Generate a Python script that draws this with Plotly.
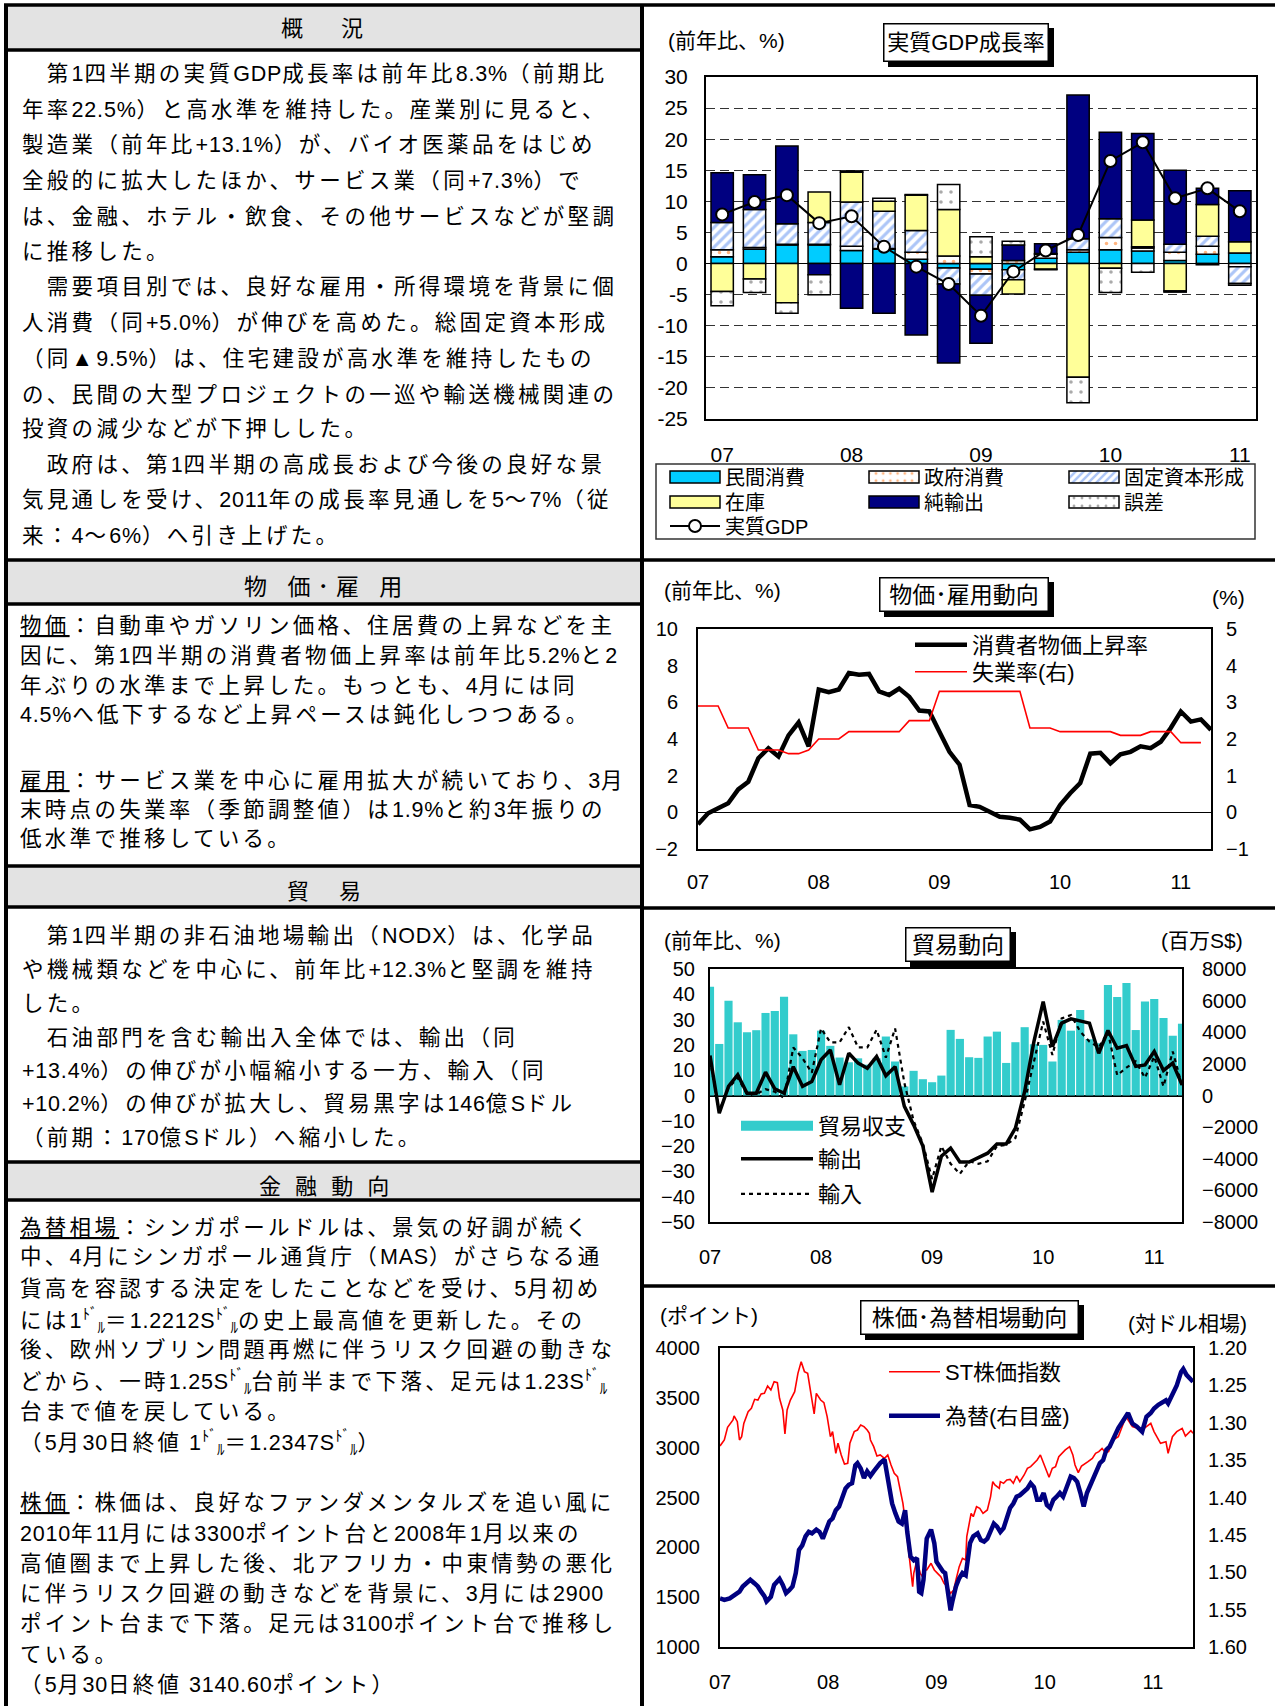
import re
import plotly.graph_objects as go

W, H = 1275, 1706
FONT = "Liberation Sans, Noto Sans CJK JP, sans-serif"


def px(x):
    return x / W


def py(y):
    return 1 - y / H


# ------------------------------------------------------------------ data
year_labels = ["07", "08", "09", "10", "11"]

# Chart 1: real GDP growth and contributions, 2007Q1 - 2011Q1 (%, % pt)
gdp_quarters = list(range(17))
private_consumption = [1.1, 2.3, 3.0, 3.0, 2.1, 2.3, 0.7, -0.7, -0.9, -1.0, 0.85, 1.8, 2.2, 2.0, 0.5, 1.5, 1.7]
government_consumption = [1.1, 0.3, 0.1, 0.1, 0.7, 0.1, 1.1, 1.2, -0.8, 0.5, 0.65, 0.4, 2.0, 0.5, 1.3, 1.3, -0.5]
fixed_capital = [4.4, 6.1, 3.3, 3.5, 7.1, 6.0, 3.5, -2.6, -3.4, -1.6, 0.1, 1.8, 3.0, 0.2, 1.3, 1.6, -2.7]
inventories = [-4.5, -2.5, -6.3, 4.9, 4.8, 1.6, 5.7, 7.5, 1.1, -2.3, -0.9, -18.3, -0.75, 4.3, -4.4, 5.1, 1.8]
net_exports = [8.0, 5.6, 12.5, -1.8, -7.2, -8.0, -11.5, -12.7, -7.7, 2.5, 1.6, 23.1, 13.9, 13.9, 11.9, 2.6, 8.2]
discrepancy = [-2.3, -2.15, -1.7, -3.2, 0.2, 0.5, 0.1, 4.0, 3.2, 0.6, -0.1, -4.1, -3.9, -1.4, -0.2, -0.2, -0.3]
real_gdp = [7.9, 9.9, 11.0, 6.5, 7.6, 2.7, -0.5, -3.3, -8.4, -1.3, 2.1, 4.6, 16.5, 19.5, 10.5, 12.1, 8.4]

# Chart 2: CPI (% yoy, monthly Jan07-Apr11) and unemployment rate (%, right)
months = list(range(52))
cpi = [-0.65, -0.05, 0.22, 0.49, 1.25, 1.67, 2.95, 3.5, 3.05, 4.2, 4.9, 3.6,
       6.7, 6.55, 6.7, 7.6, 7.5, 7.55, 6.6, 6.4, 6.75, 6.3, 5.55, 5.5,
       4.4, 3.3, 2.6, 0.4, 0.3, 0.04, -0.24, -0.3, -0.4, -0.93, -0.8, -0.5,
       0.4, 1.04, 1.6, 3.2, 3.25, 2.67, 3.16, 3.3, 3.6, 3.5, 3.85, 4.6,
       5.5, 4.95, 5.07, 4.5]
unemp_months = list(range(51))
unemployment = [2.9, 2.9, 2.9, 2.3, 2.3, 2.3, 1.7, 1.7, 1.7, 1.6, 1.6, 1.7,
                2.0, 2.0, 2.0, 2.2, 2.2, 2.2, 2.2, 2.2, 2.2, 2.5, 2.5, 2.5,
                3.3, 3.3, 3.3, 3.3, 3.3, 3.3, 3.3, 3.3, 3.3, 2.3, 2.3, 2.3,
                2.2, 2.2, 2.2, 2.2, 2.2, 2.2, 2.1, 2.1, 2.1, 2.2, 2.2, 2.2,
                1.9, 1.9, 1.9]

# Chart 3: trade balance (S$ mn, right) and exports / imports (% yoy)
trade_balance = [6880, 3260, 6000, 4630, 4000, 4130, 5220, 5350, 6250, 3870, 2820, 2880,
                 4100, 3140, 2400, 2100, 2350, 1950, 2350, 3730, 2150, 570, 1560, 1030,
                 840, 1260, 4150, 3580, 2420, 2380, 3730, 4040, 2060, 3370, 4320, 3240,
                 3200, 2150, 4780, 4100, 5410, 3560, 3300, 6990, 6230, 7110, 4140, 5950,
                 6100, 4900, 3780, 4540]
exports = [15.8, -7.0, 3.6, 8.2, 0.9, 0.9, 9.2, 2.6, 0.9, 11.4, 3.6, 5.5,
           14.1, 18.0, 4.2, 16.7, 12.8, 10.8, 15.4, 7.8, 11.4, -4.3, -11.6, -20.0,
           -38.2, -24.0, -20.8, -26.3, -26.3, -24.5, -22.8, -19.2, -19.2, -12.9, 1.6, 21.3,
           37.1, 19.3, 28.6, 30.3, 29.5, 28.6, 16.7, 25.7, 18.7, 19.7, 11.5, 12.1,
           17.4, 9.9, 12.8, 4.2]
imports = [14.0, -6.0, 3.0, 7.0, 0.5, 0.5, 2.5, 1.5, -1.0, 19.0, 14.7, 9.0,
           26.5, 21.0, 21.0, 27.0, 19.0, 19.0, 26.0, 15.0, 26.5, 5.0, -10.0, -19.0,
           -33.0, -20.0, -27.0, -31.0, -26.0, -27.0, -26.0, -20.0, -19.5, -16.8, -2.4, 13.4,
           29.2, 16.0, 30.5, 31.8, 25.3, 21.3, 19.0, 25.0, 8.0, 11.0, 13.5, 7.0,
           15.4, 3.6, 17.4, 4.0]

# Chart 4: Straits Times index (points) and S$ per US$ (right, inverted)
st_years = [0.00, 0.04, 0.07, 0.12, 0.13, 0.16, 0.18, 0.20, 0.22, 0.26, 0.29, 0.32, 0.35, 0.38, 0.41,
            0.44, 0.47, 0.50, 0.53, 0.55, 0.58, 0.60, 0.62, 0.65, 0.69, 0.72, 0.75, 0.78, 0.81, 0.84,
            0.87, 0.89, 0.93, 0.96, 0.99, 1.02, 1.04, 1.07, 1.09, 1.12, 1.13, 1.15, 1.18, 1.20, 1.24,
            1.27, 1.30, 1.33, 1.36, 1.38, 1.39, 1.42, 1.45, 1.48, 1.52, 1.55, 1.58, 1.61, 1.64, 1.67,
            1.69, 1.71, 1.74, 1.76, 1.78, 1.79, 1.82, 1.85, 1.87, 1.88, 1.91, 1.95, 1.98, 2.01, 2.04,
            2.07, 2.10, 2.13, 2.16, 2.18, 2.21, 2.24, 2.27, 2.28, 2.30, 2.32, 2.34, 2.37, 2.40, 2.43,
            2.47, 2.50, 2.52, 2.54, 2.58, 2.59, 2.62, 2.65, 2.68, 2.71, 2.74, 2.77, 2.81, 2.84, 2.87,
            2.90, 2.93, 2.96, 2.99, 3.02, 3.04, 3.07, 3.10, 3.13, 3.16, 3.19, 3.23, 3.26, 3.28, 3.31,
            3.34, 3.37, 3.40, 3.44, 3.47, 3.50, 3.53, 3.56, 3.59, 3.63, 3.68, 3.75, 3.81, 3.90, 3.98,
            4.01, 4.07, 4.12, 4.14, 4.18, 4.22, 4.27, 4.30, 4.35, 4.37]
st_index = [3017, 3077, 3204, 3278, 3318, 3261, 3077, 3110, 3244, 3361, 3395, 3485, 3478, 3539, 3545,
            3619, 3579, 3662, 3652, 3495, 3378, 3137, 3378, 3478, 3562, 3746, 3863, 3763, 3746, 3562,
            3338, 3545, 3478, 3452, 3311, 3110, 3161, 2943, 3044, 2927, 2893, 2836, 2843, 3044, 3161,
            3177, 3228, 3211, 3177, 3144, 3077, 3010, 2917, 2927, 2893, 2927, 2826, 2743, 2709, 2559,
            2442, 2274, 2007, 1773, 1606, 1739, 1873, 1739, 1706, 1773, 1773, 1840, 1773, 1739, 1706,
            1639, 1606, 1539, 1572, 1673, 1806, 1890, 1873, 2107, 2241, 2341, 2308, 2408, 2392, 2341,
            2375, 2509, 2659, 2626, 2592, 2659, 2642, 2676, 2682, 2642, 2716, 2659, 2726, 2793, 2810,
            2843, 2876, 2927, 2843, 2759, 2703, 2793, 2810, 2910, 2943, 2977, 3010, 2927, 2826, 2749,
            2816, 2836, 2860, 2893, 2943, 2960, 2993, 2950, 2960, 3077, 3110, 3311, 3211, 3178, 3244,
            3161, 3044, 3060, 2944, 3110, 3161, 3194, 3117, 3171, 3144]
fx_years = [0.00, 0.04, 0.09, 0.12, 0.15, 0.18, 0.21, 0.24, 0.28, 0.32, 0.35, 0.38, 0.41, 0.43, 0.47,
            0.50, 0.55, 0.58, 0.61, 0.64, 0.67, 0.70, 0.73, 0.76, 0.79, 0.82, 0.85, 0.89, 0.92, 0.95,
            0.98, 1.01, 1.04, 1.07, 1.10, 1.13, 1.16, 1.19, 1.22, 1.25, 1.27, 1.30, 1.33, 1.36, 1.39,
            1.42, 1.45, 1.48, 1.52, 1.53, 1.56, 1.59, 1.62, 1.65, 1.68, 1.71, 1.73, 1.76, 1.79, 1.82,
            1.84, 1.86, 1.88, 1.91, 1.95, 1.98, 2.00, 2.03, 2.06, 2.08, 2.10, 2.13, 2.15, 2.18, 2.21,
            2.24, 2.27, 2.28, 2.31, 2.34, 2.38, 2.41, 2.44, 2.47, 2.50, 2.53, 2.56, 2.59, 2.62, 2.65,
            2.68, 2.71, 2.74, 2.77, 2.81, 2.84, 2.87, 2.90, 2.93, 2.96, 2.99, 3.02, 3.05, 3.08, 3.11,
            3.14, 3.17, 3.20, 3.24, 3.27, 3.30, 3.33, 3.36, 3.39, 3.42, 3.45, 3.48, 3.51, 3.54, 3.57,
            3.60, 3.63, 3.68, 3.73, 3.77, 3.81, 3.85, 3.90, 3.94, 3.98, 4.01, 4.05, 4.09, 4.12, 4.14,
            4.18, 4.22, 4.26, 4.28, 4.31, 4.35, 4.37]
fx_rate = [1.535, 1.537, 1.535, 1.532, 1.528, 1.526, 1.519, 1.515, 1.510, 1.515, 1.519, 1.526, 1.532, 1.539, 1.533,
           1.517, 1.509, 1.517, 1.528, 1.524, 1.519, 1.501, 1.470, 1.464, 1.452, 1.446, 1.448, 1.443, 1.446, 1.455,
           1.443, 1.432, 1.428, 1.417, 1.412, 1.399, 1.388, 1.383, 1.381, 1.357, 1.354, 1.361, 1.374, 1.365, 1.371,
           1.365, 1.359, 1.354, 1.349, 1.357, 1.377, 1.408, 1.421, 1.432, 1.435, 1.417, 1.446, 1.479, 1.484, 1.481,
           1.526, 1.528, 1.510, 1.455, 1.443, 1.461, 1.486, 1.493, 1.499, 1.501, 1.519, 1.551, 1.537, 1.519, 1.508,
           1.501, 1.504, 1.493, 1.461, 1.452, 1.448, 1.457, 1.459, 1.455, 1.446, 1.435, 1.439, 1.446, 1.441, 1.428,
           1.414, 1.408, 1.399, 1.397, 1.392, 1.388, 1.381, 1.386, 1.403, 1.403, 1.394, 1.410, 1.414, 1.403, 1.399,
           1.394, 1.399, 1.386, 1.372, 1.374, 1.379, 1.394, 1.412, 1.394, 1.383, 1.372, 1.365, 1.354, 1.350, 1.336,
           1.332, 1.323, 1.307, 1.296, 1.287, 1.301, 1.305, 1.312, 1.292, 1.287, 1.281, 1.276, 1.272, 1.270, 1.274,
           1.263, 1.250, 1.232, 1.228, 1.236, 1.243, 1.245]

# ------------------------------------------------------------------ text
DOL = "<sup>ﾄﾞ</sup><sub>ﾙ</sub>"
sec1_lines = [
    "　第1四半期の実質GDP成長率は前年比8.3%（前期比",
    "年率22.5%）と高水準を維持した。産業別に見ると、",
    "製造業（前年比+13.1%）が、バイオ医薬品をはじめ",
    "全般的に拡大したほか、サービス業（同+7.3%）で",
    "は、金融、ホテル・飲食、その他サービスなどが堅調",
    "に推移した。",
    "　需要項目別では、良好な雇用・所得環境を背景に個",
    "人消費（同+5.0%）が伸びを高めた。総固定資本形成",
    "（同▲9.5%）は、住宅建設が高水準を維持したもの",
    "の、民間の大型プロジェクトの一巡や輸送機械関連の",
    "投資の減少などが下押しした。",
    "　政府は、第1四半期の高成長および今後の良好な景",
    "気見通しを受け、2011年の成長率見通しを5～7%（従",
    "来：4～6%）へ引き上げた。",
]
sec1_y = [74, 109.5, 145, 181, 217, 252, 287, 323, 359, 395, 429, 465, 500, 536]
sec2_lines = [
    "<u>物価</u>：自動車やガソリン価格、住居費の上昇などを主",
    "因に、第1四半期の消費者物価上昇率は前年比5.2%と2",
    "年ぶりの水準まで上昇した。もっとも、4月には同",
    "4.5%へ低下するなど上昇ペースは鈍化しつつある。",
    "<u>雇用</u>：サービス業を中心に雇用拡大が続いており、3月",
    "末時点の失業率（季節調整値）は1.9%と約3年振りの",
    "低水準で推移している。",
]
sec2_y = [626, 656, 686, 715, 781, 810, 839]
sec3_lines = [
    "　第1四半期の非石油地場輸出（NODX）は、化学品",
    "や機械類などを中心に、前年比+12.3%と堅調を維持",
    "した。",
    "　石油部門を含む輸出入全体では、輸出（同",
    "+13.4%）の伸びが小幅縮小する一方、輸入（同",
    "+10.2%）の伸びが拡大し、貿易黒字は146億Sドル",
    "（前期：170億Sドル）へ縮小した。",
]
sec3_y = [936, 970, 1004, 1038, 1071, 1104, 1138]
sec4_lines = [
    "<u>為替相場</u>：シンガポールドルは、景気の好調が続く",
    "中、4月にシンガポール通貨庁（MAS）がさらなる通",
    "貨高を容認する決定をしたことなどを受け、5月初め",
    "には1" + DOL + "＝1.2212S" + DOL + "の史上最高値を更新した。その",
    "後、欧州ソブリン問題再燃に伴うリスク回避の動きな",
    "どから、一時1.25S" + DOL + "台前半まで下落、足元は1.23S" + DOL,
    "台まで値を戻している。",
    "（5月30日終値 1" + DOL + "＝1.2347S" + DOL + "）",
    "<u>株価</u>：株価は、良好なファンダメンタルズを追い風に",
    "2010年11月には3300ポイント台と2008年1月以来の",
    "高値圏まで上昇した後、北アフリカ・中東情勢の悪化",
    "に伴うリスク回避の動きなどを背景に、3月には2900",
    "ポイント台まで下落。足元は3100ポイント台で推移し",
    "ている。",
    "（5月30日終値 3140.60ポイント）",
]
sec4_y = [1228, 1257, 1289, 1320, 1350, 1381, 1412, 1442, 1503, 1534, 1564, 1594, 1624, 1655, 1685]

# ------------------------------------------------------------------ figure
fig = go.Figure()

bar_components = [
    ("民間消費", private_consumption, dict(color="#00CCFF"), "legend"),
    ("政府消費", government_consumption,
     dict(color="white", pattern=dict(shape=".", fgcolor="#FF6A00", bgcolor="white", size=9, solidity=0.12)), "legend2"),
    ("固定資本形成", fixed_capital,
     dict(color="white", pattern=dict(shape="/", fgcolor="#5A8CF0", bgcolor="white", size=7, solidity=0.45)), "legend3"),
    ("在庫", inventories, dict(color="#FFFF99"), "legend4"),
    ("純輸出", net_exports, dict(color="#000080"), "legend5"),
    ("誤差", discrepancy,
     dict(color="white", pattern=dict(shape=".", fgcolor="#555555", bgcolor="white", size=10, solidity=0.1)), "legend6"),
]
for name, vals, mk, lg in bar_components:
    fig.add_trace(go.Bar(x=gdp_quarters, y=vals, name=name, width=0.69,
                         marker=dict(**mk, line=dict(color="black", width=1.5)),
                         xaxis="x", yaxis="y", legend=lg))
fig.add_trace(go.Scatter(x=gdp_quarters, y=real_gdp, name="実質GDP", mode="lines+markers",
                         line=dict(color="black", width=2),
                         marker=dict(symbol="circle", size=12, color="white", line=dict(color="black", width=2)),
                         xaxis="x", yaxis="y", legend="legend7"))

# chart 2
fig.add_trace(go.Scatter(x=months, y=cpi, name="消費者物価上昇率", mode="lines",
                         line=dict(color="black", width=4.5), xaxis="x2", yaxis="y2", legend="legend8"))
fig.add_trace(go.Scatter(x=unemp_months, y=unemployment, name="失業率(右)", mode="lines",
                         line=dict(color="#FF0000", width=1.6), xaxis="x2", yaxis="y3", legend="legend9"))

# chart 3 (bars keyed by a flat swatch entry in the legend)
fig.add_trace(go.Bar(x=months, y=trade_balance, name="貿易収支", width=0.88,
                     marker=dict(color="#33CCCC", line=dict(width=0)),
                     xaxis="x3", yaxis="y4", showlegend=False))
fig.add_trace(go.Scatter(x=[None], y=[None], name="貿易収支", mode="lines",
                         line=dict(color="#33CCCC", width=10), xaxis="x3", yaxis="y4", legend="legend10"))
fig.add_trace(go.Scatter(x=months, y=exports, name="輸出", mode="lines",
                         line=dict(color="black", width=3.5), xaxis="x3", yaxis="y5", legend="legend11"))
fig.add_trace(go.Scatter(x=months, y=imports, name="輸入", mode="lines",
                         line=dict(color="black", width=2.2, dash="4px,4px"), xaxis="x3", yaxis="y5",
                         legend="legend12"))

# chart 4
fig.add_trace(go.Scatter(x=st_years, y=st_index, name="ST株価指数", mode="lines",
                         line=dict(color="#FF0000", width=1.6), xaxis="x4", yaxis="y6", legend="legend13"))
fig.add_trace(go.Scatter(x=fx_years, y=fx_rate, name="為替(右目盛)", mode="lines",
                         line=dict(color="#000080", width=4.5), xaxis="x4", yaxis="y7", legend="legend14"))

# ------------------------------------------------------------------ axes
TICKFONT = dict(family=FONT, size=20, color="black")


def base_axis(**kw):
    d = dict(showline=True, linecolor="black", linewidth=2, mirror=True, ticks="",
             showgrid=False, zeroline=False, tickfont=TICKFONT, automargin=False, fixedrange=True)
    d.update(kw)
    return d


def overlay_axis(**kw):
    d = dict(showline=False, ticks="", showgrid=False, zeroline=False, tickfont=TICKFONT,
             automargin=False, fixedrange=True)
    d.update(kw)
    return d


c1_yvals = list(range(-25, 31, 5))
layout_axes = dict(
    xaxis=base_axis(domain=[px(706), px(1256)], range=[-0.5, 16.5], tickvals=[0, 4, 8, 12, 16],
                    ticktext=year_labels, anchor="y", ticklabelstandoff=16,
                    tickfont=dict(family=FONT, size=21, color="black")),
    yaxis=base_axis(domain=[py(419), py(77)], range=[-25, 30], tickvals=c1_yvals,
                    ticktext=[str(v) for v in c1_yvals], anchor="x", showgrid=True, gridcolor="#333333",
                    gridwidth=1, griddash="9px,5px", zeroline=True, zerolinecolor="black",
                    zerolinewidth=1.2, ticklabelstandoff=12,
                    tickfont=dict(family=FONT, size=21, color="black")),
    xaxis2=base_axis(domain=[px(698), px(1211)], range=[0, 51], tickvals=[0, 12, 24, 36, 48],
                     ticktext=year_labels, anchor="y2", ticklabelstandoff=14),
    yaxis2=base_axis(domain=[py(849), py(629)], range=[-2, 10], dtick=2, anchor="x2",
                     zeroline=True, zerolinecolor="black", zerolinewidth=1, ticklabelstandoff=14),
    yaxis3=overlay_axis(overlaying="y2", side="right", range=[-1, 5], dtick=1, anchor="x2",
                        ticklabelstandoff=14),
    xaxis3=base_axis(domain=[px(710), px(1182)], range=[0, 51], tickvals=[0, 12, 24, 36, 48],
                     ticktext=year_labels, anchor="y4", ticklabelstandoff=16),
    yaxis4=base_axis(domain=[py(1222), py(969)], range=[-8000, 8000], dtick=2000, side="right",
                     anchor="x3", tickformat="d", ticklabelstandoff=14),
    yaxis5=overlay_axis(overlaying="y4", side="left", range=[-50, 50], dtick=10, anchor="x3",
                        zeroline=True, zerolinecolor="black", zerolinewidth=2, ticklabelstandoff=14),
    xaxis4=base_axis(domain=[px(720), px(1193)], range=[0, 4.37], tickvals=[0, 1, 2, 3, 4],
                     ticktext=year_labels, anchor="y6", ticklabelstandoff=16),
    yaxis6=base_axis(domain=[py(1647), py(1348)], range=[1000, 4000], dtick=500, anchor="x4",
                     ticklabelstandoff=14),
    yaxis7=overlay_axis(overlaying="y6", side="right", range=[1.6, 1.2],
                        tickvals=[1.2, 1.25, 1.3, 1.35, 1.4, 1.45, 1.5, 1.55, 1.6], tickformat=".2f",
                        anchor="x4", ticklabelstandoff=14),
)


# ------------------------------------------------------------------ legends
def leg(x, y, size=20, itemwidth=50):
    return dict(x=px(x), y=py(y), xanchor="left", yanchor="middle", orientation="v",
                bgcolor="rgba(0,0,0,0)", borderwidth=0, itemwidth=itemwidth, tracegroupgap=0,
                font=dict(family=FONT, size=size, color="black"),
                itemclick=False, itemdoubleclick=False)


legends = dict(
    legend=leg(665, 477), legend2=leg(864, 477), legend3=leg(1064, 477),
    legend4=leg(665, 502), legend5=leg(864, 502), legend6=leg(1064, 502),
    legend7=leg(665, 526),
    legend8=leg(910, 645, 22, 52), legend9=leg(910, 672, 22, 52),
    legend10=leg(736, 1126, 22, 72), legend11=leg(736, 1159, 22, 72), legend12=leg(736, 1194, 22, 72),
    legend13=leg(884, 1372, 22, 51), legend14=leg(884, 1416, 22, 51),
)

# ------------------------------------------------------------------ shapes
shapes = []
BAND = "#E3E3E3"
for y0, y1 in [(5, 50), (560, 604), (866, 907), (1162, 1200)]:
    shapes.append(dict(type="rect", xref="paper", yref="paper", x0=px(6), x1=px(642),
                       y0=py(y1), y1=py(y0), fillcolor=BAND, line=dict(width=0), layer="below"))


def hline(x0, x1, y, w=3.5):
    shapes.append(dict(type="line", xref="paper", yref="paper", x0=px(x0), x1=px(x1),
                       y0=py(y), y1=py(y), line=dict(color="black", width=w)))


def vline(x, y0, y1, w=4):
    shapes.append(dict(type="line", xref="paper", yref="paper", x0=px(x), x1=px(x),
                       y0=py(y0), y1=py(y1), line=dict(color="black", width=w)))


hline(4, 1275, 5)
for y in [50, 604, 866, 907, 1162, 1200]:
    hline(6, 642, y)
hline(6, 1275, 560)
hline(642, 1275, 908)
hline(642, 1275, 1286)
vline(6, 4, 1706)
vline(642, 4, 1706)

# chart-1 legend box
shapes.append(dict(type="rect", xref="paper", yref="paper", x0=px(656), x1=px(1255),
                   y0=py(539), y1=py(464), line=dict(color="#333333", width=1.5),
                   fillcolor="rgba(0,0,0,0)"))

# ------------------------------------------------------------------ annotations
annotations = []


def spaced(txt, ls, ls_ascii=0.8):
    """Letter-spacing to mimic the horizontally stretched body font."""
    out = []
    for part in re.split(r"(<[^>]+>)", txt):
        if not part:
            continue
        if part.startswith("<"):
            out.append(part)
            continue
        for run in re.findall(r"[\x00-\x7F\uFF61-\uFF9F]+|[^\x00-\x7F\uFF61-\uFF9F]+", part):
            c = ord(run[0])
            if 0xFF61 <= c <= 0xFF9F:
                out.append(run)
            elif c < 128:
                out.append('<span style="letter-spacing:%spx">%s</span>' % (ls_ascii, run))
            else:
                out.append('<span style="letter-spacing:%spx">%s</span>' % (ls, run))
    return "".join(out)


def text_line(x, y, txt, size=21.5, ls=3.3):
    annotations.append(dict(xref="paper", yref="paper", x=px(x), y=py(y), xanchor="left",
                            yanchor="middle", showarrow=False, text=spaced(txt, ls),
                            font=dict(family=FONT, size=size, color="black")))


for t, y in zip(sec1_lines, sec1_y):
    text_line(20, y, t)
for t, y in zip(sec2_lines, sec2_y):
    text_line(18, y, t)
for t, y in zip(sec3_lines, sec3_y):
    text_line(20, y, t)
for t, y in zip(sec4_lines, sec4_y):
    text_line(18, y, t)


def header(txt, y, ls, size=22):
    annotations.append(dict(xref="paper", yref="paper", x=px(326), y=py(y), xanchor="center",
                            yanchor="middle", showarrow=False,
                            text='<span style="letter-spacing:%spx">%s</span>' % (ls, txt),
                            font=dict(family=FONT, size=size, color="black")))


header("概　況", 29, 8)
header("物 価･雇 用", 587, 7, 23)
header("貿　易", 891, 4)
header("金 融 動 向", 1186, 4)


def plain(x, y, txt, size=21, anchor="left"):
    annotations.append(dict(xref="paper", yref="paper", x=px(x), y=py(y), xanchor=anchor,
                            yanchor="middle", showarrow=False, text=txt,
                            font=dict(family=FONT, size=size, color="black")))


def title_box(x0, y0, x1, y1, txt, size=22):
    shapes.append(dict(type="rect", xref="paper", yref="paper", x0=px(x0 + 5), x1=px(x1 + 5),
                       y0=py(y1 + 5), y1=py(y0 + 5), fillcolor="black", line=dict(width=0)))
    annotations.append(dict(xref="paper", yref="paper", x=px((x0 + x1) / 2), y=py((y0 + y1) / 2),
                            xanchor="center", yanchor="middle", showarrow=False, text=txt,
                            width=x1 - x0 - 3, height=y1 - y0 - 3, borderpad=0,
                            bgcolor="white", bordercolor="black", borderwidth=1.5,
                            font=dict(family=FONT, size=size, color="black")))


plain(666, 40, "(前年比、%)")
title_box(883, 23, 1049, 62, "実質GDP成長率")

plain(662, 590, "(前年比、%)")
title_box(879, 577, 1049, 612, "物価･雇用動向", 23)
plain(1247, 598, "(%)", anchor="right")

plain(662, 940, "(前年比、%)")
title_box(905, 927, 1011, 962, "貿易動向", 23)
plain(1245, 940, "(百万S$)", anchor="right")

plain(658, 1315, "(ポイント)")
title_box(860, 1300, 1079, 1335, "株価･為替相場動向", 23)
plain(1249, 1323, "(対ドル相場)", anchor="right")

fig.update_layout(
    width=W, height=H, autosize=False,
    margin=dict(l=0, r=0, t=0, b=0, pad=0),
    paper_bgcolor="white", plot_bgcolor="white",
    barmode="relative", showlegend=True,
    font=dict(family=FONT, size=20, color="black"),
    shapes=shapes, annotations=annotations,
    **layout_axes, **legends,
)

# widen the small square bar-legend swatches into the flat rectangles of the original
POST = """
document.body.style.margin='0';
document.body.style.overflow='hidden';
function widenSwatches(){
  var paths = document.querySelectorAll('g.legendpoints path');
  paths.forEach(function(p){
    var d = (p.getAttribute('d') || '').replace(/\\s/g, '');
    if (d === 'M6,6H-6V-6H6Z') { p.setAttribute('d', 'M25,6H-25V-6H25Z'); }
  });
}
widenSwatches();
setTimeout(widenSwatches, 50);
setTimeout(widenSwatches, 300);
"""

fig.write_html("out.html", config={"displayModeBar": False}, post_script=POST)
